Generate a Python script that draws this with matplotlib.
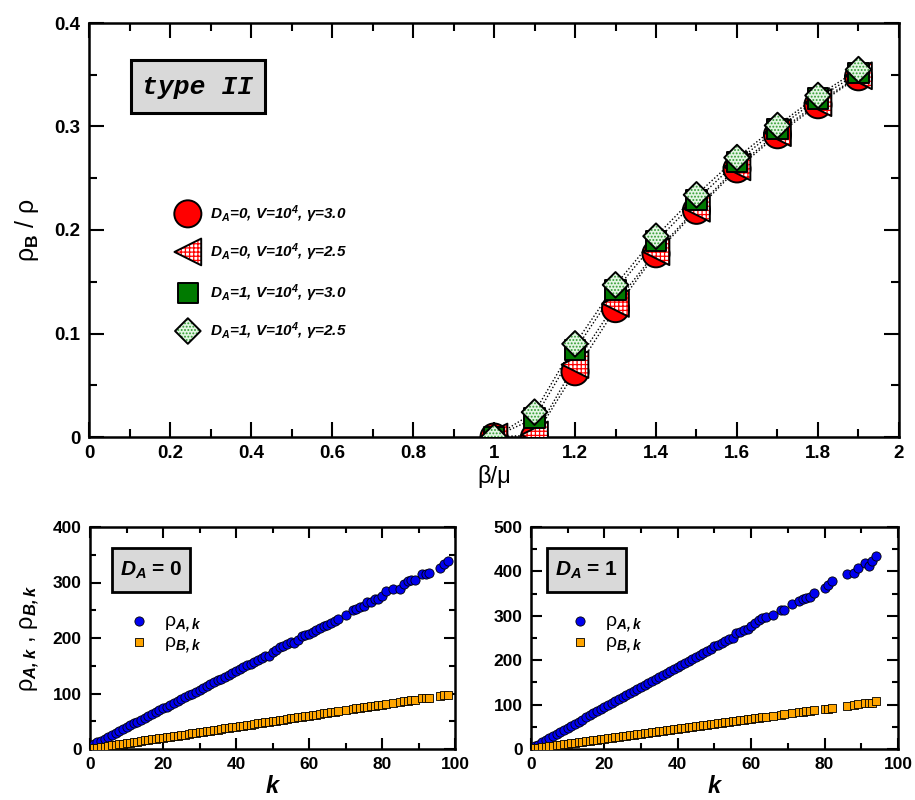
import matplotlib
matplotlib.use("Agg")
import matplotlib.pyplot as plt
from matplotlib.patches import Rectangle
from matplotlib.ticker import MultipleLocator, FuncFormatter

plt.rcParams["font.family"] = ["Liberation Sans", "DejaVu Sans"]
plt.rcParams["font.weight"] = "bold"
plt.rcParams["mathtext.fontset"] = "custom"
plt.rcParams["mathtext.it"] = "Liberation Sans:italic:bold"
plt.rcParams["mathtext.rm"] = "Liberation Sans:italic:bold"
plt.rcParams["mathtext.bf"] = "Liberation Sans:bold"
plt.rcParams["hatch.linewidth"] = 0.9

# ---- top panel: rho_B / rho vs beta/mu ----
beta_mu = [1.0, 1.1, 1.2, 1.3, 1.4, 1.5, 1.6, 1.7, 1.8, 1.9]
rho_d0_g30 = [0.0, 0.0, 0.063, 0.124, 0.177, 0.219, 0.259, 0.292, 0.321, 0.348]
rho_d0_g25 = [0.0, 0.002, 0.070, 0.129, 0.179, 0.221, 0.261, 0.294, 0.323, 0.349]
rho_d1_g30 = [0.0, 0.018, 0.084, 0.142, 0.189, 0.229, 0.266, 0.298, 0.327, 0.352]
rho_d1_g25 = [0.0, 0.024, 0.090, 0.147, 0.194, 0.234, 0.270, 0.301, 0.330, 0.355]
labels_top = [
    "D$_A$=0, V=10$^4$, γ=3.0",
    "D$_A$=0, V=10$^4$, γ=2.5",
    "D$_A$=1, V=10$^4$, γ=3.0",
    "D$_A$=1, V=10$^4$, γ=2.5",
]

# ---- bottom-left: D_A = 0 ----
k_d0 = list(range(1, 69)) + [70, 72, 73, 74, 75, 76, 77, 78, 79, 80, 81, 83, 85,
                             86, 87, 88, 89, 91, 92, 93, 96, 97, 98]
rhoA_d0 = [9, 12, 15, 18.5, 22, 25.5, 29, 32, 35.5, 39, 42.5, 46, 49, 52.5, 56, 59.5,
           63, 66, 69.5, 73, 76.5, 80, 83, 86.5, 90, 93, 96.5, 100, 103.5, 107, 110,
           113.5, 117, 120.5, 124, 127, 130.5, 134, 137, 140.5, 144, 147.5, 151, 154,
           157.5, 161, 164, 167.5, 168, 174, 178, 184, 186, 189, 192, 191, 196, 203,
           205, 208, 211, 214, 218, 222, 224, 227, 230, 234,
           242, 250, 253, 256, 258, 264, 265, 270, 271, 276, 285, 288, 288, 297, 302,
           304, 305, 315, 315, 318, 326, 333, 339]
rhoB_d0 = [1.5, 2.5, 3.5, 4.5, 5.5, 6.5, 7.5, 8.5, 9.5, 10.5, 11.5, 12.5, 13.5, 14.5,
           15.5, 16.5, 17.5, 18.5, 19.5, 20.5, 21.5, 22.5, 23, 24, 25, 26, 27, 28, 29,
           30, 31, 32, 33, 34, 35, 36, 37, 38, 39, 40, 41, 42, 43, 44, 45, 46, 47, 48,
           49, 50, 51, 52, 53, 54, 55, 56, 57, 58, 59, 60, 61, 62, 63, 64, 65, 66, 67, 68,
           70, 72, 73, 73.5, 75, 76, 77, 78, 79, 80, 81, 83, 84, 86, 87, 88, 88, 91, 91,
           92, 95, 97, 98]

# ---- bottom-right: D_A = 1 ----
k_d1 = list(range(1, 65)) + [66, 68, 69, 71, 73, 74, 75, 76, 77, 80, 81, 82, 86, 88,
                             89, 91, 92, 93, 94]
rhoA_d1 = [6, 10, 15, 19.5, 24, 29, 33.5, 38, 43, 47.5, 52, 57, 61.5, 66, 71, 75.5, 80,
           85, 89.5, 94, 98.5, 103, 108, 112.5, 117, 121.5, 126, 131, 135.5, 140, 144.5,
           149, 154, 158.5, 163, 167.5, 172, 176.5, 181, 185.5, 190, 194.5, 199, 203.5,
           208, 212.5, 217, 221, 225, 231, 235, 239, 244, 247, 250, 262, 263, 269, 271,
           278, 284, 290, 295, 297,
           302, 313, 313, 327, 334, 337, 339, 342, 352, 363, 369, 379, 394, 396, 408,
           418, 412, 424, 435]
rhoB_d1 = [1.5, 2.5, 3.5, 5, 6, 7, 8, 9, 10.5, 11.5, 12.5, 13.5, 15, 16, 17, 18, 19.5,
           20.5, 21.5, 22.5, 24, 25, 26, 27, 28.5, 29.5, 30.5, 31.5, 33, 34, 35, 36, 37.5,
           38.5, 39.5, 40.5, 42, 43, 44, 45, 46.5, 47.5, 48.5, 49.5, 51, 52, 53, 54, 55.5,
           56.5, 57.5, 58.5, 60, 61, 62, 63, 64.5, 65.5, 66.5, 67.5, 69, 70, 71, 72.5,
           75, 77, 78, 81, 83, 84, 85, 86, 88, 90, 91, 93, 97, 98, 101, 103, 104, 104, 107]


def layered(ax, x, y, marker, size, face, hatch=None, hatch_color=None, z=3.0, **kw):
    # fill layer (optionally hatched) + black outline layer on top
    if hatch:
        with plt.rc_context({"hatch.color": hatch_color}):
            ax.scatter(x, y, s=size, marker=marker, facecolor=face, edgecolor=hatch_color,
                       hatch=hatch, linewidths=0, zorder=z, **kw)
    else:
        ax.scatter(x, y, s=size, marker=marker, facecolor=face, edgecolor="none",
                   zorder=z, **kw)
    ax.scatter(x, y, s=size, marker=marker, facecolor="none", edgecolor="black",
               linewidths=1.4, zorder=z + 0.1, **kw)


def style_axes(ax, major_len, minor_len, size):
    ax.tick_params(which="both", direction="in", top=True, right=True, width=1.5,
                   labelsize=size, pad=6)
    ax.tick_params(which="major", length=major_len)
    ax.tick_params(which="minor", length=minor_len)
    for sp in ax.spines.values():
        sp.set_linewidth(1.8)


fmt_g = FuncFormatter(lambda v, p: f"{v:g}")

fig = plt.figure(figsize=(9.15, 8), dpi=100)

# ================= top panel =================
ax = fig.add_axes([0.0973, 0.45375, 0.8852, 0.5175])
series = [rho_d0_g30, rho_d0_g25, rho_d1_g30, rho_d1_g25]
for ys in series:
    ax.plot(beta_mu, ys, linestyle=(0, (1, 1.5)), color="black", linewidth=1.0, zorder=2)

styles = [
    dict(marker="o", size=380, face="#ff0000"),
    dict(marker="<", size=370, face="white", hatch="++++", hatch_color="#ff0000"),
    dict(marker="s", size=210, face="#007a00"),
    dict(marker="D", size=170, face="#e4f5e4", hatch=".....", hatch_color="#2e9b2e"),
]
for i, (ys, st) in enumerate(zip(series, styles)):
    layered(ax, beta_mu, ys, z=3 + i, **st)

# manual legend (keeps hatched markers)
leg_y = [0.539, 0.447, 0.348, 0.256]
for ly, st, lab in zip(leg_y, styles, labels_top):
    layered(ax, [0.122], [ly], transform=ax.transAxes, clip_on=False, z=8, **st)
    ax.text(0.149, ly, lab, transform=ax.transAxes, fontsize=11, fontweight="bold",
            fontstyle="italic", va="center", ha="left")

ax.set_xlim(0, 2)
ax.set_ylim(0, 0.4)
ax.xaxis.set_major_locator(MultipleLocator(0.2))
ax.xaxis.set_minor_locator(MultipleLocator(0.1))
ax.yaxis.set_major_locator(MultipleLocator(0.1))
ax.yaxis.set_minor_locator(MultipleLocator(0.05))
ax.xaxis.set_major_formatter(fmt_g)
ax.yaxis.set_major_formatter(fmt_g)
style_axes(ax, 11, 5.5, 13.5)
ax.set_xlabel("β/μ", fontsize=17, fontweight="normal", labelpad=2)
ax.set_ylabel("ρ$_\\mathbf{B}$ / ρ", fontsize=18, fontweight="normal", labelpad=10)

ax.add_patch(Rectangle((0.0519, 0.7826), 0.1654, 0.128, transform=ax.transAxes,
                       facecolor="#d9d9d9", edgecolor="black", linewidth=2.2, zorder=5))
ax.text(0.1346, 0.8466, "type II", transform=ax.transAxes, ha="center", va="center",
        fontsize=19, family="Liberation Mono", fontweight="bold", fontstyle="italic",
        zorder=6)

# ================= bottom panels =================
panels = [
    ([0.0984, 0.06375, 0.3989, 0.2775], k_d0, rhoA_d0, rhoB_d0, 400, "$D_A$ = 0", 0.0603),
    ([0.5803, 0.06375, 0.4011, 0.2775], k_d1, rhoA_d1, rhoB_d1, 500, "$D_A$ = 1", 0.0436),
]
for j, (rect, ks, ra, rb, ymax, boxlab, bx) in enumerate(panels):
    bx_ax = fig.add_axes(rect)
    bx_ax.scatter(ks, ra, s=44, marker="o", facecolor="#0000f0", edgecolor="black",
                  linewidths=0.6, zorder=3, label="ρ$_{A,k}$")
    bx_ax.scatter(ks, rb, s=30, marker="s", facecolor="#ffa500", edgecolor="black",
                  linewidths=0.6, zorder=3, label="ρ$_{B,k}$")
    bx_ax.set_xlim(0, 100)
    bx_ax.set_ylim(0, ymax)
    bx_ax.xaxis.set_major_locator(MultipleLocator(20))
    bx_ax.xaxis.set_minor_locator(MultipleLocator(10))
    bx_ax.yaxis.set_major_locator(MultipleLocator(100))
    bx_ax.yaxis.set_minor_locator(MultipleLocator(50))
    style_axes(bx_ax, 8, 4.5, 12.5)
    bx_ax.set_xlabel("k", fontsize=17, fontweight="bold", fontstyle="italic", labelpad=2)
    if j == 0:
        bx_ax.set_ylabel("ρ$_{A,k}$ , ρ$_{B,k}$", fontsize=17, fontweight="normal",
                         labelpad=8)
    bx_ax.legend(loc="upper left", bbox_to_anchor=(0.06, 0.65), frameon=False,
                 handletextpad=0.3, labelspacing=0.0, borderaxespad=0,
                 scatterpoints=1, prop={"weight": "normal", "size": 14})
    bx_ax.add_patch(Rectangle((bx, 0.707), 0.214, 0.198, transform=bx_ax.transAxes,
                              facecolor="#d9d9d9", edgecolor="black", linewidth=2.0,
                              zorder=5))
    bx_ax.text(bx + 0.107, 0.806, boxlab, transform=bx_ax.transAxes, ha="center",
               va="center", fontsize=15, fontweight="bold", zorder=6)

fig.savefig("out.png", dpi=100)
